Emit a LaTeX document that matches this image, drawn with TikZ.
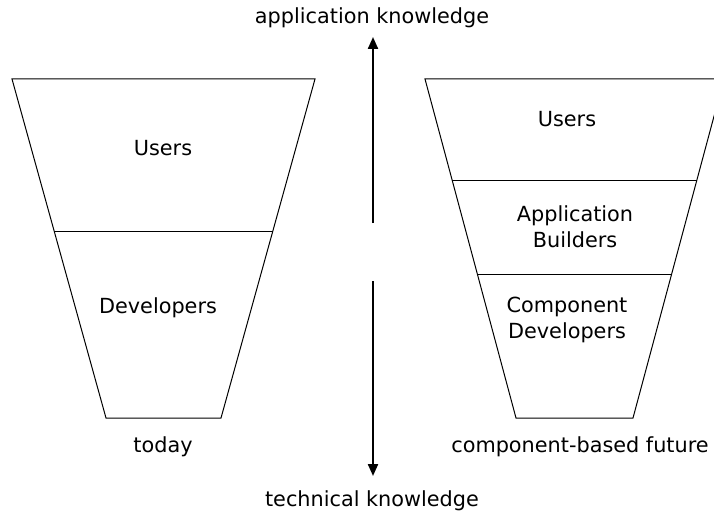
\documentclass[tikz,border=0pt]{standalone}
\usepackage{fontspec}
\setmainfont{DejaVu Sans}
\usetikzlibrary{arrows.meta}
\begin{document}
\begin{tikzpicture}[x=0.75pt,y=-0.75pt,
    funnel/.style={draw,line width=0.75pt,line join=miter},
    layer/.style={draw,line width=0.75pt},
    axis/.style={line width=1.6pt,-{Triangle[length=9pt,width=7.5pt]}},
    lbl/.style={font=\fontsize{15.6}{19.5}\selectfont,anchor=base,inner sep=0pt,align=center}]
  \clip (0,0) rectangle (714,517);
  % today
  \draw[funnel] (12,79) -- (315,79) -- (221,418) -- (106,418) -- cycle;
  \draw[layer] (54,231) -- (273,231);
  % component-based future
  \draw[funnel] (425,79) -- (724,79) -- (633,418) -- (516,418) -- cycle;
  \draw[layer] (452,180) -- (697,180);
  \draw[layer] (477,274) -- (672,274);
  % labels
  \draw
    (372,24) node[lbl] (appk){application knowledge}
    (372,506) node[lbl] (techk){technical knowledge}
    (163,156) node[lbl] (usersL){Users}
    (158,313) node[lbl] (dev){Developers}
    (163,452) node[lbl] (today){today}
    (567,127) node[lbl] (usersR){Users}
    (575,247) node[lbl] (appb){Application\\Builders}
    (567,338) node[lbl] (compd){Component\\Developers}
    (580,452) node[lbl] (future){component-based future};
  % axis
  \coordinate (upS) at (373,223);
  \coordinate (upE) at (373,37);
  \coordinate (dnS) at (373,281);
  \coordinate (dnE) at (373,476);
  \draw[axis] (upS) -- (upE);
  \draw[axis] (dnS) -- (dnE);
\end{tikzpicture}
\end{document}
